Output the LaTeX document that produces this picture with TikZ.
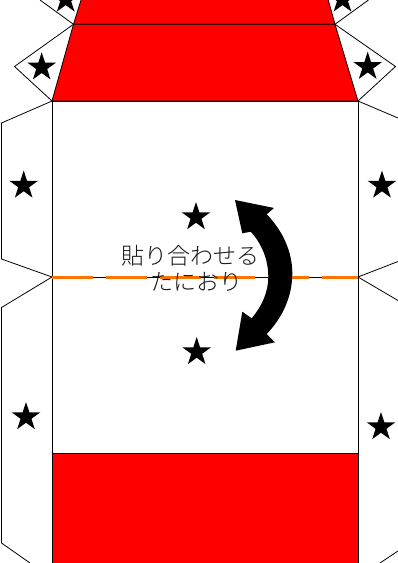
\documentclass[tikz,border=0pt]{standalone}
\usepackage{fontspec}
\usepackage{tikz}
\usetikzlibrary{shapes.geometric}
\newfontfamily\jpfont[UprightFont={* Light}]{Noto Sans CJK JP}
\tikzset{
    starmark/.style = {star, star points = 5, star point ratio = 2.618, fill = black, draw = none, minimum size = 30pt, inner sep = 0pt},
    foldlabel/.style = {inner sep = 0pt, text = black!90, font = \jpfont\fontsize{23}{25}\selectfont}
}

\begin{document}
\begin{tikzpicture}[x = 1pt, y = -1pt, line width = 0.8pt]
\clip (0,0) rectangle (398,563);
\fill[white] (0,0) rectangle (398,563);
\coordinate (p1) at (52,101);
\coordinate (p2) at (358,101);
\coordinate (p3) at (358,453);
\coordinate (p4) at (52,453);
\coordinate (q1) at (73.5,24.3);
\coordinate (q2) at (335,24.3);
\coordinate (f1) at (52,277);
\coordinate (f2) at (358,277);
% glue flaps
\draw (q1) -- (14.5,66.5) -- (p1);
\draw (q2) -- (395.5,66.5) -- (p2);
\draw (q1) -- (40,0);
\draw (q2) -- (368.5,0);
\draw (p1) -- (1.5,123) -- (1.5,259) -- (f1) -- (1.5,307.5) -- (1.5,543) -- (30,563);
\draw (p2) -- (398,118) (f2) -- (398,261.5) (f2) -- (398,300.5) (380,563) -- (398,551);
% red panels
\draw[fill = red] (q1) -- (83.5,-8) -- (326,-8) -- (q2) -- cycle;
\draw[fill = red] (p1) -- (q1) -- (q2) -- (p2) -- cycle;
\draw (p1) -- (p2) -- (p3) -- (p4) -- cycle;
\draw[fill = red] (p4) -- (p3) -- (358,570) -- (52,570) -- cycle;
% fold line
\draw (f1) -- (f2);
\draw[orange!90!red, line width = 3pt, dash pattern = on 41pt off 13pt] (f1) -- (f2);
% stars
\draw (65.7,-0.6) node[starmark](s1){}
    (342.5,-0.6) node[starmark](s2){}
    (41.7,67.3) node[starmark](s3){}
    (367.7,66.7) node[starmark](s4){}
    (23.7,185.5) node[starmark](s5){}
    (382,185.5) node[starmark](s6){}
    (196,217) node[starmark](s7){}
    (196.7,352) node[starmark](s8){}
    (26,417) node[starmark](s9){}
    (381,427) node[starmark](s10){};
% arrow
\fill (235,200) -- (274,208) -- (266.7,214.3)
    .. controls (283,231) and (292.3,252) .. (292.3,273.3)
    .. controls (292.3,296) and (283,317) .. (266.7,334)
    -- (275,342.3) -- (235.7,350.7) -- (242.3,311.7) -- (251.7,318.3)
    .. controls (262,306) and (268.3,292) .. (268.3,276.7)
    .. controls (268.3,260) and (262,244) .. (250.7,231.7)
    -- (242.3,233.3) -- cycle;
% label
\node[foldlabel](t1) at (190.5,255.5) {貼り合わせる};
\node[foldlabel](t2) at (196.5,282) {たにおり};
\end{tikzpicture}
\end{document}
